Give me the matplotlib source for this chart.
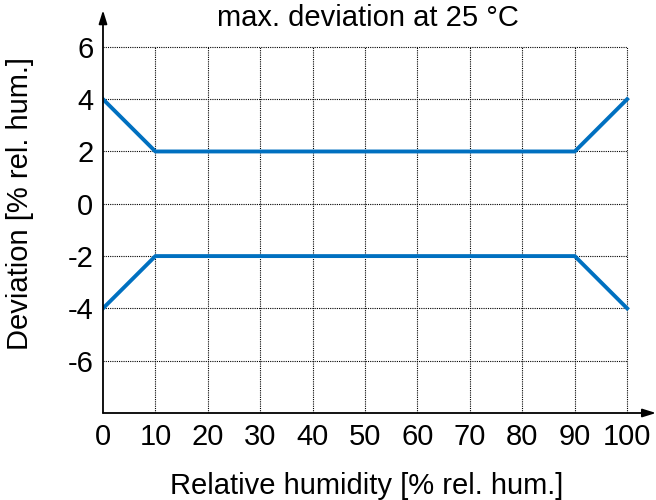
import matplotlib.pyplot as plt

plt.rcParams['font.family'] = ['Liberation Sans', 'DejaVu Sans']
plt.rcParams['axes.unicode_minus'] = False

humidity = [0, 10, 90, 100]
upper_dev = [4, 2, 2, 4]
lower_dev = [-4, -2, -2, -4]
xticks = [0, 10, 20, 30, 40, 50, 60, 70, 80, 90, 100]
yticks = [-6, -4, -2, 0, 2, 4, 6]

fig = plt.figure(figsize=(6.56, 5), dpi=100)
ax = fig.add_axes([0.157, 0.174, 0.843, 0.8055])
ax.set_xlim(0, 105.5)
ax.set_ylim(-8, 7.4)

for s in ax.spines.values():
    s.set_visible(False)

# dotted grid, limited to the data area
ax.vlines(xticks[1:], -8, 6, colors='black', linestyles=(0, (1, 1)), lw=0.8, zorder=1)
ax.hlines(yticks, 0, 100, colors='black', linestyles=(0, (1, 1)), lw=0.8, zorder=1)

ax.plot(humidity, upper_dev, color='#0070C0', lw=2.8, zorder=3)
ax.plot(humidity, lower_dev, color='#0070C0', lw=2.8, zorder=3)

# axes with arrows
ax.annotate('', xy=(105.5, -8), xytext=(0, -8),
            arrowprops=dict(arrowstyle='-|>,head_length=0.8,head_width=0.25', color='black', lw=1.3,
                            shrinkA=0, shrinkB=0), annotation_clip=False)
ax.annotate('', xy=(0, 7.4), xytext=(0, -8),
            arrowprops=dict(arrowstyle='-|>,head_length=0.8,head_width=0.25', color='black', lw=1.3,
                            shrinkA=0, shrinkB=0), annotation_clip=False)

ax.set_xticks(xticks)
ax.set_yticks(yticks)
ax.tick_params(length=0, labelsize=21, pad=7)
ax.set_xlabel('Relative humidity [% rel. hum.]', fontsize=21, labelpad=15)
ax.xaxis.label.set_x(0.477)
ax.set_ylabel('Deviation [% rel. hum.]', fontsize=21)
ax.yaxis.set_label_coords(-0.125, 0.52)
ax.text(50.5, 7.1, 'max. deviation at 25 °C', fontsize=21, ha='center', va='center')

fig.savefig('out.png', dpi=100)
